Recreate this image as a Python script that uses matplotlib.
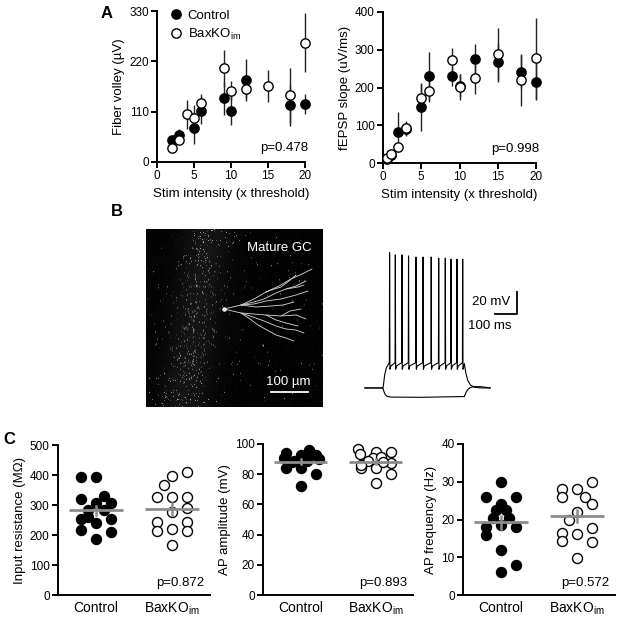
import numpy as np
import matplotlib
matplotlib.use("Agg")
import matplotlib.pyplot as plt

plt.rcParams['font.family'] = ['Liberation Sans', 'DejaVu Sans']
plt.rcParams['mathtext.fontset'] = 'custom'
plt.rcParams['mathtext.rm'] = 'Liberation Sans'

KO = r'BaxKO$_\mathregular{im}$'

# ---- panel A: fiber volley ----
fv_ctrl_x = [2, 3, 5, 6, 9, 10, 12, 18, 20]
fv_ctrl = [47, 60, 75, 112, 139, 112, 179, 124, 127]
fv_ctrl_sem = [6, 12, 35, 29, 36, 32, 46, 45, 22]
fv_ko_x = [2, 3, 4, 5, 6, 9, 10, 12, 15, 18, 20]
fv_ko = [30, 48, 104, 97, 130, 205, 156, 159, 166, 146, 261]
fv_ko_sem = [5, 8, 31, 27, 19, 40, 20, 20, 34, 60, 65]

# ---- panel A: fEPSP slope ----
ep_ctrl_x = [0.5, 1, 2, 3, 5, 6, 9, 10, 12, 15, 18, 20]
ep_ctrl = [10, 20, 83, 89, 149, 230, 230, 205, 275, 267, 242, 215]
ep_ctrl_sem = [3, 5, 51, 18, 64, 64, 25, 30, 40, 52, 44, 48]
ep_ko_x = [0.5, 1, 2, 3, 5, 6, 9, 10, 12, 15, 18, 20]
ep_ko = [14, 23, 42, 93, 173, 191, 273, 202, 226, 288, 220, 277]
ep_ko_sem = [3, 5, 8, 18, 35, 30, 31, 35, 44, 69, 70, 108]

# ---- panel B: current clamp trace (ms, mV) ----
spike_times = [156, 182, 212, 242, 276, 308, 345, 379, 409, 435, 462, 488]
spike_peaks = [53, 51, 51, 50, 49, 49, 49, 48, 48, 47, 47, 47]
step_on_t = [45, 127, 130, 135, 142, 150]
step_on_v = [-70, -70, -66, -58, -52, -49]
step_off_t = [497, 503, 512, 525, 545, 575, 614]
step_off_v = [-48, -56, -63, -67.5, -69.5, -70, -70]
hyp_t = [45, 127, 131, 137, 147, 165, 300, 497, 502, 510, 522, 540, 570, 600, 614]
hyp_v = [-70, -70, -73, -76, -77.8, -78.3, -78.5, -77.8, -75, -72, -69.8, -68.8, -68.8, -69.6, -70]

# dendrite paths in image pixels (x, y)
dendrites = [
    [(78, 80), (95, 76), (108, 70), (120, 63), (133, 57), (145, 50), (156, 45), (166, 40)],
    [(95, 76), (108, 73), (118, 70), (130, 64), (140, 60), (150, 57), (160, 52)],
    [(95, 76), (108, 75), (120, 72), (135, 70), (150, 66), (162, 62)],
    [(95, 76), (110, 78), (125, 77), (137, 76), (148, 73)],
    [(78, 80), (95, 84), (108, 85), (120, 86), (135, 87), (150, 86), (160, 90)],
    [(95, 84), (107, 88), (118, 92), (130, 97), (140, 100), (150, 101), (158, 104)],
    [(95, 84), (104, 90), (112, 96), (121, 101), (130, 106), (140, 109), (148, 112)],
    [(120, 86), (130, 91), (140, 94), (152, 97)],
    [(120, 63), (128, 60), (135, 58), (143, 52), (150, 46)],
    [(140, 60), (146, 59), (152, 58), (158, 56)],
    [(135, 87), (144, 82), (155, 80)],
]

# ---- panel C ----
ir_ctrl = [392, 392, 319, 331, 308, 306, 283, 283, 252, 261, 241, 252, 217, 211, 187]
ir_ctrl_dx = [-0.2, 0, -0.2, 0.1, 0.2, 0, -0.1, 0.1, -0.2, -0.1, 0, 0.2, -0.2, 0.2, 0]
ir_ko = [411, 397, 367, 326, 326, 326, 289, 278, 244, 244, 213, 220, 213, 167]
ir_ko_dx = [0.2, 0, -0.1, -0.2, 0, 0.2, 0.2, 0, -0.2, 0.2, -0.2, 0, 0.2, 0]

amp_ctrl = [94, 91, 84, 89, 93, 90, 84, 72, 96, 92, 89, 93, 90, 80, 88]
amp_ctrl_dx = [-0.2, -0.22, -0.2, -0.09, 0, 0, 0, 0, 0.11, 0.11, 0.09, 0.2, 0.24, 0.2, -0.11]
amp_ko = [96.5, 93.4, 95, 95, 90.5, 91.6, 83.9, 83.9, 87.2, 80.1, 74, 89, 88, 86]
amp_ko_dx = [-0.24, -0.21, 0, 0.2, -0.03, 0.07, -0.2, 0, 0.2, 0.2, 0, -0.1, 0.1, -0.2]

freq_ctrl = [30, 26, 26, 24, 22.5, 22.5, 20.5, 20.5, 18, 18.5, 18, 16, 12, 8, 6]
freq_ctrl_dx = [0, -0.2, 0.2, 0, -0.07, 0.07, -0.1, 0.1, -0.2, 0, 0.2, -0.2, 0, 0.2, 0]
freq_ko = [28.1, 26, 28.1, 29.9, 26, 24, 22.1, 19.9, 16.3, 14.3, 16.1, 17.8, 14.1, 9.9]
freq_ko_dx = [-0.2, -0.2, 0, 0.2, 0.1, 0.2, 0, -0.1, -0.2, -0.2, 0, 0.2, 0.2, 0]

groups = ['Control', KO]

fig = plt.figure(figsize=(6.17, 6.17), dpi=100)
W = 617.0


def px_axes(x0, y0, x1, y1):
    return fig.add_axes([x0 / W, 1 - y1 / W, (x1 - x0) / W, (y1 - y0) / W])


def style(ax):
    for s in ['top', 'right']:
        ax.spines[s].set_visible(False)
    for s in ['left', 'bottom']:
        ax.spines[s].set_linewidth(1.4)
    ax.tick_params(direction='out', length=4, width=1.4, labelsize=8.5, pad=2)


def xy_panel(ax, cx, c, cs, kx, k, ks, ymax, yticks, ylabel, pval):
    style(ax)
    ax.errorbar(cx, c, yerr=cs, fmt='none', ecolor='#222222', elinewidth=1.0, clip_on=False, zorder=2)
    ax.errorbar(kx, k, yerr=ks, fmt='none', ecolor='#222222', elinewidth=1.0, clip_on=False, zorder=2)
    ax.plot(cx, c, 'o', ms=6.7, color='black', clip_on=False, zorder=3, label='Control')
    ax.plot(kx, k, 'o', ms=6.7, mfc='white', mec='black', mew=1.0, clip_on=False, zorder=4, label=KO)
    ax.set_xlim(0, 20)
    ax.set_ylim(0, ymax)
    ax.set_xticks([0, 5, 10, 15, 20])
    ax.set_yticks(yticks)
    ax.set_xlabel('Stim intensity (x threshold)', fontsize=9.5, labelpad=4)
    ax.set_ylabel(ylabel, fontsize=9.5, labelpad=3)
    ax.text(1.02, 0.09, pval, transform=ax.transAxes, ha='right', va='center', fontsize=9.5)


ax1 = px_axes(157, 11, 305, 162)
xy_panel(ax1, fv_ctrl_x, fv_ctrl, fv_ctrl_sem, fv_ko_x, fv_ko, fv_ko_sem,
         330, [0, 110, 220, 330], 'Fiber volley (\u00b5V)', 'p=0.478')
ax1.legend(loc='upper left', bbox_to_anchor=(0.03, 1.07), frameon=False, fontsize=9.5,
           handlelength=0.8, handletextpad=0.5, borderpad=0.2, labelspacing=0.35)

ax2 = px_axes(383, 12, 536, 163)
xy_panel(ax2, ep_ctrl_x, ep_ctrl, ep_ctrl_sem, ep_ko_x, ep_ko, ep_ko_sem,
         400, [0, 100, 200, 300, 400], 'fEPSP slope (uV/ms)', 'p=0.998')

# ---- panel B image ----
axi = px_axes(146, 229, 323, 407)
h, w = 178, 177
rng = np.random.default_rng(7)  # background speckle texture only
yy, xx = np.mgrid[0:h, 0:w]
band = 62 - 0.14 * yy
dens = 0.004 + 0.085 * np.exp(-((xx - band) / 20.0) ** 2)
img = 0.03 * rng.random((h, w))
img += 0.07 * np.exp(-((xx - band) / 25.0) ** 2)
spots = rng.random((h, w)) < dens
img[spots] += 0.12 + 0.5 * rng.random(spots.sum())
axi.imshow(np.clip(img, 0, 1), cmap='gray', vmin=0, vmax=1, interpolation='bilinear',
           extent=(0, w, h, 0), aspect='auto')
for path in dendrites:
    px, py = zip(*path)
    axi.plot(px, py, color='#d8d8d8', lw=0.6, solid_capstyle='round')
axi.plot([78], [80], 'o', ms=2.2, color='white')
axi.text(166, 19, 'Mature GC', color='white', ha='right', va='center', fontsize=9.5)
axi.text(142, 153, '100 \u00b5m', color='white', ha='center', va='center', fontsize=9.5)
axi.plot([125, 162], [163, 163], color='white', lw=1.3)
axi.set_xlim(0, w)
axi.set_ylim(h, 0)
axi.set_xticks([])
axi.set_yticks([])
for s in axi.spines.values():
    s.set_visible(False)

# ---- panel B trace ----
axt = px_axes(355, 240, 530, 405)
dep_t = list(step_on_t)
dep_v = list(step_on_v)
for ts, pk in zip(spike_times, spike_peaks):
    dep_t += [ts, ts + 1.2, ts + 2.6, ts + 7]
    dep_v += [-47, pk, -53, -50]
dep_t += step_off_t
dep_v += step_off_v
axt.plot(dep_t, dep_v, color='black', lw=0.8)
axt.plot(hyp_t, hyp_v, color='black', lw=0.8)
axt.plot([636, 736, 736], [-2.7, -2.7, 17.3], color='black', lw=1.3)
axt.text(705, 8.2, '20 mV', ha='right', va='center', fontsize=9.5)
axt.text(614, -13.6, '100 ms', ha='center', va='center', fontsize=9.5)
axt.set_xlim(0, 795)
axt.set_ylim(-85.5, 64.5)
axt.axis('off')

# ---- panel C ----
def scatter_panel(ax, c, cdx, k, kdx, ymax, yticks, ylabel, pval):
    style(ax)
    ax.tick_params(axis='x', length=0, labelsize=10, pad=4)
    ax.plot(1 + np.array(cdx), c, 'o', ms=7.2, color='black', clip_on=False, zorder=2)
    ax.plot(2 + np.array(kdx), k, 'o', ms=7.2, mfc='white', mec='black', mew=1.0,
            clip_on=False, zorder=2)
    for pos, vals in [(1, c), (2, k)]:
        m = np.mean(vals)
        sem = np.std(vals, ddof=1) / np.sqrt(len(vals))
        ax.plot([pos - 0.35, pos + 0.35], [m, m], color='#8c8c8c', lw=2.0, zorder=3,
                solid_capstyle='butt')
        ax.plot([pos, pos], [m - sem, m + sem], color='#8c8c8c', lw=1.8, zorder=3)
    ax.set_xlim(0.5, 2.5)
    ax.set_ylim(0, ymax)
    ax.set_yticks(yticks)
    ax.set_xticks([1, 2])
    ax.set_xticklabels(groups)
    ax.set_ylabel(ylabel, fontsize=9.5, labelpad=3)
    ax.text(0.96, 0.08, pval, transform=ax.transAxes, ha='right', va='center', fontsize=9.5)


ax3 = px_axes(58, 445, 210, 595)
scatter_panel(ax3, ir_ctrl, ir_ctrl_dx, ir_ko, ir_ko_dx, 500, [0, 100, 200, 300, 400, 500],
              'Input resistance (M\u03a9)', 'p=0.872')
ax4 = px_axes(263, 444, 413, 595)
scatter_panel(ax4, amp_ctrl, amp_ctrl_dx, amp_ko, amp_ko_dx, 100, [0, 20, 40, 60, 80, 100],
              'AP amplitude (mV)', 'p=0.893')
ax5 = px_axes(463, 444, 615, 595)
scatter_panel(ax5, freq_ctrl, freq_ctrl_dx, freq_ko, freq_ko_dx, 40, [0, 10, 20, 30, 40],
              'AP frequency (Hz)', 'p=0.572')

fig.text(107 / W, 1 - 13 / W, 'A', fontsize=12, fontweight='bold', ha='center', va='center')
fig.text(117 / W, 1 - 212 / W, 'B', fontsize=12, fontweight='bold', ha='center', va='center')
fig.text(9 / W, 1 - 439 / W, 'C', fontsize=12, fontweight='bold', ha='center', va='center')

fig.savefig('out.png', dpi=100)
